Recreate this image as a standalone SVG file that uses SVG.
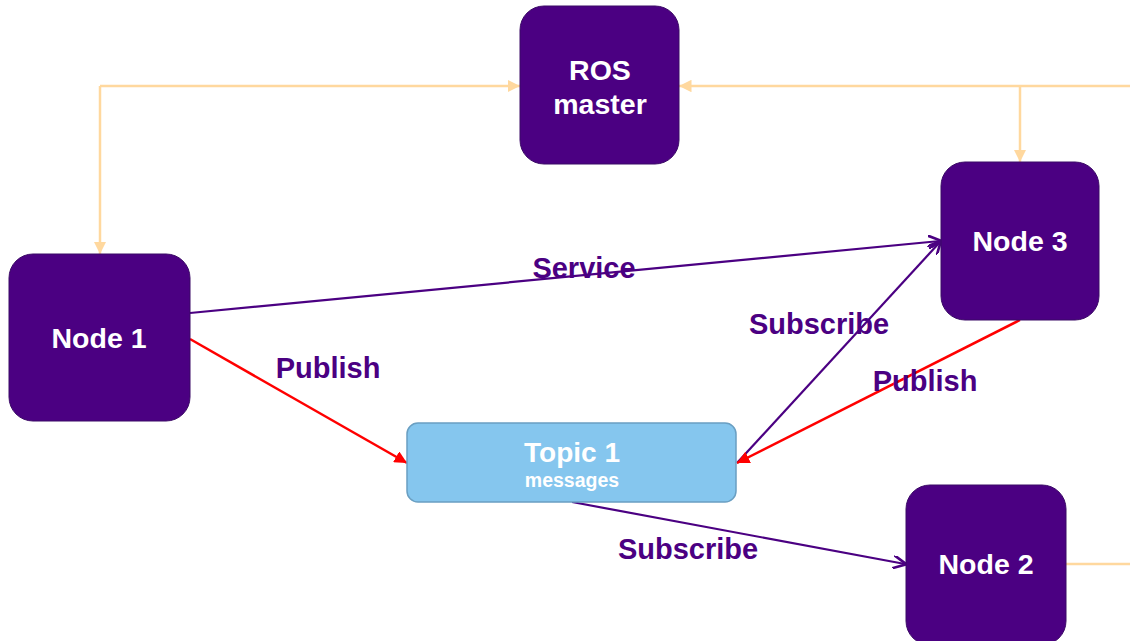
<svg xmlns="http://www.w3.org/2000/svg" width="1130" height="641" viewBox="0 0 1130 641">
  <style>
    .node rect { fill: #4B0082; stroke: #3B0A66; stroke-width: 1; }
    .node text { fill: #FFFFFF; font-family: "Liberation Sans", Arial, sans-serif; font-weight: bold; font-size: 28.5px; text-anchor: middle; }
    .topic rect { fill: #85C6EE; stroke: #6A9FC2; stroke-width: 1.5; }
    .topic text { fill: #FFFFFF; font-family: "Liberation Sans", Arial, sans-serif; font-weight: bold; text-anchor: middle; }
    .label { fill: #4B0082; font-family: "Liberation Sans", Arial, sans-serif; font-weight: bold; font-size: 29px; text-anchor: middle; }
    .reg { fill: none; stroke: #FFD89E; stroke-width: 2.5; }
    .svc { fill: none; stroke: #4B0082; stroke-width: 2.2; }
    .pub { fill: none; stroke: #FF0000; stroke-width: 2.5; }
  </style>
  <defs>
    <marker id="arrOrange" viewBox="0 0 10 10" refX="10" refY="5" markerWidth="5" markerHeight="5" markerUnits="strokeWidth" orient="auto">
      <path d="M0,0 L10,5 L0,10 z" fill="#FFD89E"/>
    </marker>
    <marker id="arrPurple" viewBox="0 0 10 10" refX="9" refY="5" markerWidth="6" markerHeight="6" markerUnits="strokeWidth" orient="auto">
      <path d="M0,0 L10,5 L0,10" fill="none" stroke="#4B0082" stroke-width="2"/>
    </marker>
    <marker id="arrRed" viewBox="0 0 10 10" refX="10" refY="5" markerWidth="5" markerHeight="5" markerUnits="strokeWidth" orient="auto">
      <path d="M0,0 L10,5 L0,10 z" fill="#FF0000"/>
    </marker>
  </defs>

  <!-- connectors -->
  <g id="connectors">
    <!-- registration lines to the master -->
    <path class="reg" d="M100,86 L100,254" marker-end="url(#arrOrange)"/>
    <path class="reg" d="M100,86 L520,86" marker-end="url(#arrOrange)"/>
    <path class="reg" d="M1130,86 L679,86" marker-end="url(#arrOrange)"/>
    <path class="reg" d="M1020,86 L1020,162" marker-end="url(#arrOrange)"/>
    <path class="reg" d="M1066,564 L1130,564"/>
    <!-- service call -->
    <path class="svc" d="M190,313 L940,241" marker-end="url(#arrPurple)"/>
    <!-- subscriptions -->
    <path class="svc" d="M737,463 L940,242" marker-end="url(#arrPurple)"/>
    <path class="svc" d="M572,502 L905,564" marker-end="url(#arrPurple)"/>
    <!-- publications -->
    <path class="pub" d="M190,339 L407,463" marker-end="url(#arrRed)"/>
    <path class="pub" d="M1020,320 L737,463" marker-end="url(#arrRed)"/>
  </g>

  <!-- connector labels -->
  <g id="labels">
    <text class="label" x="584" y="278">Service</text>
    <text class="label" x="328" y="378">Publish</text>
    <text class="label" x="819" y="334">Subscribe</text>
    <text class="label" x="925" y="391">Publish</text>
    <text class="label" x="688" y="559">Subscribe</text>
  </g>

  <g id="ros-master" class="node">
    <rect x="520" y="6" width="159" height="158" rx="24" ry="24"/>
    <text x="600" y="80">ROS</text>
    <text x="600" y="114">master</text>
  </g>

  <g id="node-1" class="node">
    <rect x="9" y="254" width="181" height="167" rx="24" ry="24"/>
    <text x="99" y="348">Node 1</text>
  </g>

  <g id="node-3" class="node">
    <rect x="941" y="162" width="158" height="158" rx="24" ry="24"/>
    <text x="1020" y="251">Node 3</text>
  </g>

  <g id="node-2" class="node">
    <rect x="906" y="485" width="160" height="160" rx="24" ry="24"/>
    <text x="986" y="574">Node 2</text>
  </g>

  <g id="topic-1" class="topic">
    <rect x="407" y="423" width="329" height="79" rx="11" ry="11"/>
    <text x="572" y="462" font-size="28px">Topic 1</text>
    <text x="572" y="487" font-size="19.5px">messages</text>
  </g>
</svg>
